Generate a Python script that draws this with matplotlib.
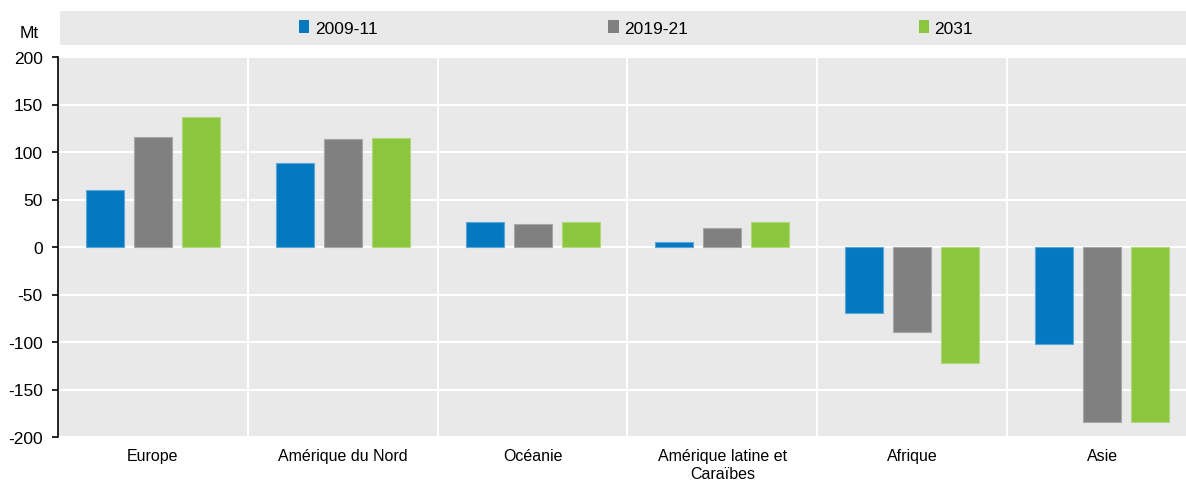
import matplotlib
matplotlib.use("Agg")
import matplotlib.pyplot as plt
from matplotlib.patches import Patch
import numpy as np

plt.rcParams["font.family"] = ["Liberation Sans Narrow", "Liberation Sans", "DejaVu Sans"]
plt.rcParams["axes.unicode_minus"] = False

# data (Mt)
regions = ["Europe", "Amérique du Nord", "Océanie", "Amérique latine et\nCaraïbes", "Afrique", "Asie"]
series = ["2009-11", "2019-21", "2031"]
v_2009 = [60, 88, 26, 5, -69, -102]
v_2019 = [116, 114, 24, 20, -89, -184]
v_2031 = [137, 115, 26, 26, -122, -184]
colors = ["#0579bf", "#808080", "#8cc63f"]
edges = ["#5aa6d8", "#a6a6a6", "#b0da7a"]
bg = "#e9e9e9"

W, H = 1186, 481
fig = plt.figure(figsize=(W / 100, H / 100), dpi=100)

# main axes (last column runs off the right edge like the original)
ax = fig.add_axes([58 / W, (H - 438) / H, (1197 - 58) / W, 380 / H])
ax.set_facecolor(bg)
x = np.arange(len(regions))
offs = [-0.253, 0, 0.253]
for vals, off, c, ec in zip([v_2009, v_2019, v_2031], offs, colors, edges):
    ax.bar(x + off, vals, width=0.2, color=c, edgecolor=ec, linewidth=0.8, zorder=3)

ax.set_xlim(-0.5, 5.5)
ax.set_ylim(-200, 200)
ax.set_yticks(np.arange(-200, 201, 50))
ax.grid(axis="y", color="white", linewidth=1.5, zorder=0)
ax.set_xticks(x)
ax.set_xticklabels(regions, fontsize=11.5, linespacing=1.2)
ax.tick_params(axis="x", length=0, pad=8)
ax.set_xticks(np.arange(0.5, 5.5, 1), minor=True)
ax.grid(axis="x", which="minor", color="white", linewidth=1.5, zorder=0)
ax.tick_params(axis="x", which="minor", length=0)
ax.tick_params(axis="y", labelsize=12.5, length=4, width=1.2, pad=7)
for s in ["top", "right", "bottom"]:
    ax.spines[s].set_visible(False)
ax.spines["left"].set_linewidth(1.2)

# zero line with small upward ticks at region boundaries
zax = ax.secondary_xaxis(0.5)
zax.set_xticks(np.arange(0.5, 5.5, 1))
zax.tick_params(axis="x", direction="in", length=4, width=1.2, labelbottom=False, labeltop=False)
zax.spines["bottom"].set_linewidth(1.2)
zax.spines["top"].set_linewidth(1.2)

fig.text(29 / W, 1 - 34 / H, "Mt", fontsize=12.5, ha="center", va="center")

# legend band
lax = fig.add_axes([60 / W, (H - 46) / H, (W - 60) / W, 34 / H])
lax.set_facecolor(bg)
lax.set_xticks([])
lax.set_yticks([])
for s in lax.spines.values():
    s.set_visible(False)
handles = [Patch(facecolor=c, edgecolor="none") for c in colors]
lax.legend(handles, series, ncol=3, loc="center", bbox_to_anchor=(0.5115, 0.5),
           frameon=False, fontsize=12.5, handlelength=0.6, handleheight=0.8,
           handletextpad=0.3, columnspacing=13.3)

fig.savefig("out.png", dpi=100)
